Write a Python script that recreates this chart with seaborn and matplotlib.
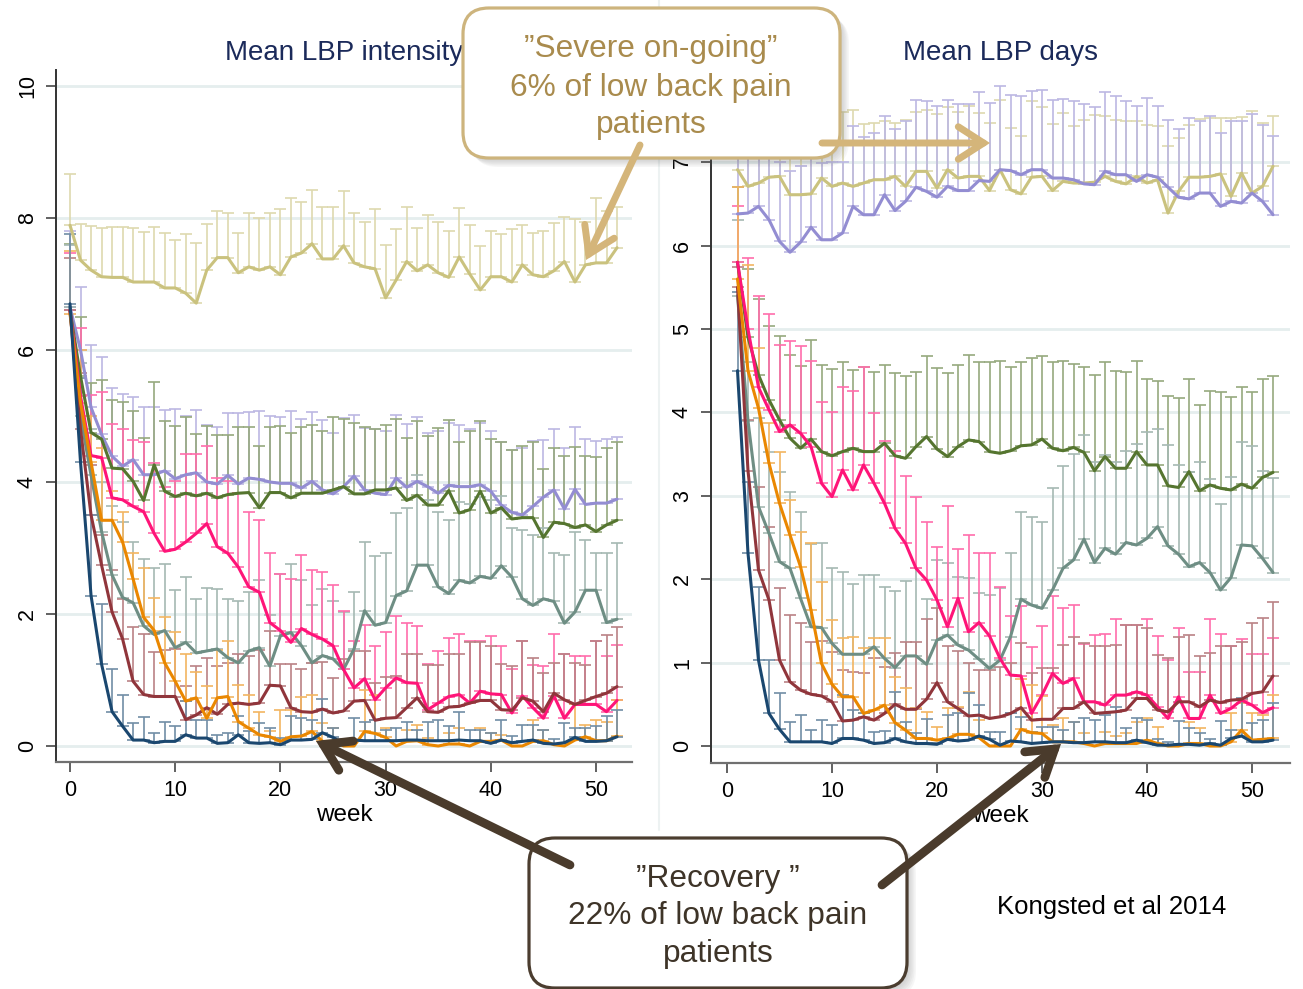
import numpy as np
import pandas as pd
import matplotlib
matplotlib.use("Agg")
import matplotlib.pyplot as plt
import seaborn as sns
from matplotlib.patches import FancyBboxPatch, FancyArrowPatch
from matplotlib.colors import to_rgb

# ---------------------------------------------------------------- data
groups = ["khaki", "lavender", "forest", "teal", "pink", "maroon", "orange", "navy"]
group_colors = ["#cac27e", "#938dd2", "#55752f", "#6e8e84", "#ff1478", "#90353b", "#ea8700", "#1a476f"]

weeks_intensity = list(range(0, 53))
weeks_days = list(range(1, 53))

# Mean LBP intensity (0-10) per week, with upper error limit
intensity_mean_khaki = [7.89, 7.36, 7.21, 7.11, 7.10, 7.10, 7.03, 7.03, 7.03, 6.94, 6.94, 6.86, 6.71, 7.21, 7.40, 7.40, 7.17, 7.26, 7.21, 7.26, 7.14, 7.41, 7.47, 7.61, 7.38, 7.38, 7.58, 7.32, 7.26, 7.23, 6.79, 7.06, 7.34, 7.20, 7.29, 7.17, 7.10, 7.41, 7.15, 6.91, 7.11, 7.11, 7.03, 7.29, 7.14, 7.11, 7.20, 7.34, 7.03, 7.29, 7.32, 7.32, 7.55]
intensity_upper_khaki = [8.67, 7.91, 7.88, 7.85, 7.87, 7.87, 7.85, 7.79, 7.87, 7.77, 7.67, 7.76, 7.62, 7.91, 8.10, 8.08, 7.77, 8.08, 8.00, 8.08, 8.14, 8.30, 8.24, 8.42, 8.16, 8.17, 8.41, 8.08, 7.94, 8.14, 7.59, 7.83, 8.17, 7.85, 8.04, 7.94, 7.81, 8.15, 7.89, 7.57, 7.80, 7.76, 7.83, 7.89, 7.78, 7.81, 7.93, 8.02, 7.99, 7.94, 8.31, 8.10, 8.16]

intensity_mean_lavender = [6.65, 6.00, 5.13, 4.72, 4.39, 4.24, 4.34, 4.11, 4.11, 4.17, 4.05, 4.11, 4.14, 4.00, 3.97, 4.10, 3.97, 4.06, 4.04, 4.00, 3.98, 3.98, 3.91, 4.01, 3.88, 3.82, 3.93, 4.09, 3.88, 3.83, 3.81, 4.06, 3.92, 4.01, 3.93, 3.83, 3.95, 3.93, 3.93, 3.96, 3.86, 3.65, 3.54, 3.50, 3.63, 3.77, 3.88, 3.59, 3.89, 3.66, 3.68, 3.68, 3.74]
intensity_upper_lavender = [7.81, 6.96, 6.07, 5.89, 5.42, 5.34, 5.29, 5.13, 5.13, 5.09, 5.10, 5.00, 5.09, 4.86, 4.83, 5.05, 5.05, 5.06, 5.08, 5.00, 4.99, 5.08, 4.95, 5.06, 4.94, 4.75, 4.97, 5.02, 4.82, 4.80, 4.77, 5.02, 4.88, 4.98, 4.75, 4.77, 4.90, 4.87, 4.80, 4.90, 4.78, 4.60, 4.49, 4.52, 4.62, 4.63, 4.81, 4.52, 4.83, 4.65, 4.62, 4.65, 4.68]

intensity_mean_forest = [6.60, 5.60, 4.75, 4.65, 4.21, 4.20, 4.01, 3.72, 4.26, 3.86, 3.78, 3.83, 3.79, 3.83, 3.76, 3.81, 3.83, 3.84, 3.61, 3.84, 3.84, 3.76, 3.83, 3.83, 3.83, 3.88, 3.93, 3.82, 3.82, 3.88, 3.88, 3.91, 3.72, 3.80, 3.65, 3.65, 3.87, 3.53, 3.58, 3.86, 3.53, 3.61, 3.44, 3.46, 3.46, 3.16, 3.39, 3.37, 3.31, 3.35, 3.25, 3.35, 3.42]
intensity_upper_forest = [7.60, 6.50, 5.50, 5.55, 5.24, 5.21, 5.08, 4.67, 5.51, 4.93, 4.85, 4.99, 4.72, 4.85, 4.71, 4.71, 4.83, 4.83, 4.54, 4.83, 4.85, 4.75, 4.83, 4.86, 4.78, 4.99, 4.95, 4.90, 4.83, 4.80, 4.86, 4.95, 4.67, 4.93, 4.70, 4.82, 4.94, 4.60, 4.77, 4.93, 4.65, 4.60, 4.49, 4.54, 4.61, 4.20, 4.52, 4.39, 4.53, 4.39, 4.38, 4.51, 4.61]

intensity_mean_teal = [6.65, 5.00, 4.10, 3.25, 2.59, 2.25, 2.17, 1.82, 1.69, 1.75, 1.49, 1.57, 1.41, 1.44, 1.47, 1.34, 1.26, 1.44, 1.49, 1.21, 1.67, 1.72, 1.52, 1.26, 1.37, 1.32, 1.16, 1.47, 2.05, 1.83, 1.87, 2.28, 2.35, 2.74, 2.74, 2.41, 2.31, 2.51, 2.47, 2.57, 2.54, 2.73, 2.56, 2.23, 2.13, 2.23, 2.19, 1.86, 2.03, 2.36, 2.36, 1.87, 1.92]
intensity_upper_teal = [7.59, 5.80, 4.80, 4.00, 3.63, 3.40, 3.09, 2.84, 2.69, 2.76, 2.36, 2.56, 2.23, 2.39, 2.38, 2.23, 2.19, 2.33, 2.51, 1.98, 2.61, 2.76, 2.51, 2.13, 2.38, 2.19, 2.03, 2.34, 3.09, 2.88, 2.93, 3.53, 3.60, 4.10, 3.72, 3.55, 3.43, 3.70, 3.66, 3.78, 3.73, 3.79, 3.30, 3.27, 3.20, 3.31, 2.92, 2.89, 3.24, 3.12, 2.92, 2.93, 3.08]

intensity_mean_pink = [6.60, 5.30, 4.40, 4.37, 3.76, 3.73, 3.63, 3.55, 3.22, 2.95, 2.98, 3.09, 3.22, 3.37, 3.02, 2.92, 2.71, 2.41, 2.33, 1.87, 1.75, 1.57, 1.78, 1.69, 1.62, 1.52, 1.16, 0.88, 1.02, 0.70, 0.88, 1.03, 0.96, 0.95, 0.55, 0.65, 0.75, 0.78, 0.65, 0.83, 0.79, 0.78, 0.50, 0.76, 0.58, 0.42, 0.76, 0.42, 0.63, 0.63, 0.63, 0.52, 0.69]
intensity_upper_pink = [7.47, 6.34, 5.32, 5.36, 4.88, 4.80, 4.63, 4.60, 4.29, 3.92, 4.01, 4.43, 4.43, 4.54, 4.06, 4.01, 3.83, 3.55, 3.43, 2.93, 2.61, 2.53, 2.89, 2.66, 2.63, 2.44, 2.04, 1.59, 1.83, 1.51, 1.72, 1.97, 1.87, 1.82, 1.24, 1.44, 1.63, 1.69, 1.59, 1.59, 1.67, 1.52, 1.16, 1.59, 1.22, 1.21, 1.69, 1.39, 1.37, 1.36, 1.59, 1.36, 1.53]

intensity_mean_maroon = [6.60, 4.80, 3.50, 2.74, 2.03, 1.62, 0.98, 0.78, 0.75, 0.75, 0.75, 0.40, 0.47, 0.58, 0.48, 0.63, 0.65, 0.63, 0.65, 0.92, 0.91, 0.58, 0.52, 0.51, 0.56, 0.50, 0.53, 0.68, 0.69, 0.39, 0.42, 0.43, 0.58, 0.73, 0.52, 0.51, 0.59, 0.60, 0.65, 0.69, 0.69, 0.55, 0.54, 0.73, 0.68, 0.52, 0.80, 0.70, 0.63, 0.69, 0.75, 0.80, 0.90]
intensity_upper_maroon = [7.39, 5.65, 4.26, 3.19, 2.66, 2.23, 1.80, 1.69, 1.42, 1.46, 1.47, 0.91, 1.21, 1.34, 1.21, 1.26, 1.39, 1.36, 1.46, 1.75, 1.24, 1.24, 1.16, 1.26, 1.27, 1.03, 1.32, 1.44, 1.44, 0.96, 1.05, 1.06, 1.39, 1.39, 1.22, 1.22, 1.40, 1.40, 1.58, 1.57, 1.52, 1.24, 1.21, 1.59, 1.34, 1.11, 1.26, 1.39, 1.26, 1.22, 1.59, 1.68, 1.80]

intensity_mean_orange = [6.55, 5.20, 4.30, 3.42, 3.42, 3.09, 2.53, 1.95, 1.75, 1.26, 0.98, 0.68, 0.73, 0.42, 0.73, 0.75, 0.37, 0.27, 0.17, 0.14, 0.07, 0.14, 0.15, 0.22, 0.07, 0.07, 0.00, 0.00, 0.22, 0.19, 0.13, 0.00, 0.07, 0.08, 0.02, 0.00, 0.03, 0.03, 0.00, 0.07, 0.07, 0.09, 0.00, 0.00, 0.07, 0.08, 0.02, 0.00, 0.09, 0.14, 0.08, 0.08, 0.15]
intensity_upper_orange = [7.50, 6.00, 5.00, 4.52, 3.87, 3.55, 2.92, 2.70, 2.25, 1.95, 1.73, 1.39, 1.12, 0.91, 1.46, 1.59, 0.92, 0.78, 0.52, 0.22, 0.55, 0.55, 0.75, 0.78, 0.35, 0.27, 0.00, 0.00, 0.85, 0.78, 0.28, 0.00, 0.24, 0.32, 0.12, 0.00, 0.20, 0.27, 0.00, 0.27, 0.19, 0.17, 0.00, 0.00, 0.40, 0.25, 0.02, 0.00, 0.63, 0.32, 0.40, 0.37, 0.70]

intensity_mean_navy = [6.70, 4.30, 2.28, 1.24, 0.52, 0.30, 0.09, 0.09, 0.05, 0.07, 0.07, 0.17, 0.12, 0.12, 0.04, 0.05, 0.17, 0.05, 0.04, 0.05, 0.02, 0.09, 0.09, 0.10, 0.20, 0.13, 0.04, 0.09, 0.08, 0.08, 0.08, 0.08, 0.09, 0.09, 0.08, 0.08, 0.08, 0.09, 0.08, 0.08, 0.04, 0.09, 0.05, 0.07, 0.09, 0.04, 0.03, 0.05, 0.13, 0.07, 0.07, 0.08, 0.14]
intensity_upper_navy = [7.76, 5.57, 3.50, 2.15, 1.16, 0.78, 0.35, 0.44, 0.20, 0.36, 0.31, 0.68, 0.40, 0.40, 0.17, 0.20, 0.45, 0.22, 0.35, 0.27, 0.12, 0.45, 0.42, 0.39, 0.71, 0.27, 0.10, 0.42, 0.37, 0.39, 0.24, 0.28, 0.37, 0.24, 0.37, 0.39, 0.30, 0.52, 0.24, 0.24, 0.19, 0.40, 0.15, 0.32, 0.32, 0.25, 0.10, 0.35, 0.27, 0.27, 0.30, 0.45, 0.55]

# Mean LBP days per week (weeks 1-52), with upper error limit
days_mean_khaki = [6.91, 6.71, 6.75, 6.82, 6.83, 6.61, 6.61, 6.62, 6.81, 6.71, 6.75, 6.71, 6.75, 6.79, 6.79, 6.83, 6.71, 6.89, 6.89, 6.69, 6.91, 6.81, 6.83, 6.83, 6.66, 6.91, 6.67, 6.62, 6.82, 6.83, 6.66, 6.77, 6.75, 6.75, 6.76, 6.83, 6.77, 6.74, 6.83, 6.75, 6.79, 6.39, 6.65, 6.82, 6.82, 6.83, 6.86, 6.59, 6.87, 6.63, 6.71, 6.95]
days_upper_khaki = [7.70, 7.65, 7.60, 7.62, 7.58, 7.60, 7.55, 7.60, 7.62, 7.58, 7.60, 7.63, 7.46, 7.47, 7.49, 7.47, 7.51, 7.60, 7.62, 7.58, 7.66, 7.60, 7.67, 7.59, 7.47, 7.75, 7.41, 7.31, 7.73, 7.66, 7.46, 7.59, 7.43, 7.51, 7.57, 7.55, 7.51, 7.49, 7.50, 7.45, 7.43, 7.19, 7.29, 7.45, 7.52, 7.53, 7.53, 7.53, 7.54, 7.61, 7.47, 7.55]

days_mean_lavender = [6.38, 6.39, 6.47, 6.31, 6.05, 5.92, 6.04, 6.22, 6.07, 6.07, 6.15, 6.47, 6.37, 6.37, 6.61, 6.42, 6.53, 6.70, 6.65, 6.58, 6.71, 6.66, 6.66, 6.78, 6.77, 6.91, 6.90, 6.85, 6.91, 6.91, 6.81, 6.81, 6.79, 6.74, 6.73, 6.89, 6.85, 6.85, 6.77, 6.85, 6.82, 6.70, 6.58, 6.56, 6.63, 6.63, 6.47, 6.53, 6.51, 6.63, 6.53, 6.37]
days_upper_lavender = [7.30, 7.20, 7.25, 7.10, 7.00, 6.89, 6.95, 7.10, 6.99, 7.00, 7.00, 7.43, 7.30, 7.35, 7.55, 7.40, 7.50, 7.74, 7.73, 7.67, 7.75, 7.70, 7.70, 7.84, 7.71, 7.91, 7.81, 7.79, 7.85, 7.87, 7.75, 7.76, 7.73, 7.70, 7.66, 7.84, 7.79, 7.73, 7.67, 7.77, 7.67, 7.51, 7.40, 7.53, 7.50, 7.55, 7.35, 7.49, 7.50, 7.58, 7.45, 7.31]

days_mean_forest = [5.80, 4.90, 4.45, 4.15, 3.91, 3.69, 3.57, 3.68, 3.53, 3.48, 3.53, 3.57, 3.53, 3.53, 3.63, 3.48, 3.45, 3.59, 3.71, 3.56, 3.47, 3.59, 3.67, 3.65, 3.53, 3.51, 3.54, 3.60, 3.61, 3.68, 3.57, 3.54, 3.58, 3.52, 3.30, 3.47, 3.33, 3.33, 3.53, 3.37, 3.37, 3.12, 3.10, 3.29, 3.06, 3.13, 3.09, 3.07, 3.14, 3.09, 3.22, 3.28]
days_upper_forest = [6.70, 5.72, 5.36, 5.03, 4.92, 4.69, 4.56, 4.87, 4.57, 4.52, 4.61, 4.51, 4.55, 4.48, 4.57, 4.47, 4.44, 4.49, 4.68, 4.53, 4.47, 4.57, 4.69, 4.60, 4.60, 4.62, 4.55, 4.60, 4.65, 4.68, 4.60, 4.62, 4.58, 4.55, 4.45, 4.60, 4.50, 4.48, 4.62, 4.40, 4.38, 4.20, 4.17, 4.40, 4.09, 4.26, 4.25, 4.18, 4.30, 4.25, 4.40, 4.44]

days_mean_teal = [5.40, 3.90, 2.87, 2.55, 2.21, 2.13, 1.77, 1.43, 1.42, 1.23, 1.10, 1.10, 1.10, 1.19, 1.05, 0.94, 1.08, 1.08, 0.98, 1.27, 1.33, 1.21, 1.15, 1.04, 0.93, 1.03, 1.31, 1.76, 1.69, 1.65, 1.87, 2.13, 2.23, 2.48, 2.20, 2.37, 2.30, 2.44, 2.41, 2.49, 2.63, 2.40, 2.30, 2.15, 2.20, 2.08, 1.87, 2.02, 2.41, 2.40, 2.25, 2.08]
days_upper_teal = [6.31, 4.60, 3.93, 3.52, 3.29, 3.05, 2.80, 2.42, 2.43, 2.14, 2.09, 1.94, 2.05, 2.05, 1.91, 1.86, 1.98, 2.13, 1.76, 2.23, 2.19, 2.03, 2.02, 1.83, 1.81, 1.90, 2.32, 2.81, 2.75, 2.68, 3.09, 3.36, 3.50, 3.73, 3.40, 3.49, 3.40, 3.54, 3.62, 3.77, 3.80, 3.61, 3.37, 3.29, 3.40, 3.20, 2.90, 3.23, 3.64, 3.60, 3.30, 3.21]

days_mean_pink = [5.80, 5.00, 4.30, 4.03, 3.77, 3.85, 3.75, 3.59, 3.15, 2.99, 3.31, 3.07, 3.37, 3.15, 2.91, 2.61, 2.43, 2.13, 1.99, 1.75, 1.43, 1.77, 1.37, 1.48, 1.32, 1.05, 0.85, 0.84, 0.39, 0.61, 0.87, 0.75, 0.81, 0.53, 0.53, 0.49, 0.61, 0.61, 0.65, 0.61, 0.47, 0.33, 0.59, 0.33, 0.33, 0.61, 0.39, 0.45, 0.55, 0.49, 0.40, 0.46]
days_upper_pink = [6.47, 5.85, 5.40, 5.18, 4.81, 4.86, 4.80, 4.62, 4.13, 4.01, 4.30, 4.26, 4.55, 3.99, 3.66, 3.54, 3.24, 2.99, 2.69, 2.39, 2.88, 2.36, 2.53, 2.31, 2.31, 1.91, 1.56, 1.68, 1.19, 1.44, 1.80, 1.65, 1.69, 1.22, 1.33, 1.34, 1.52, 1.45, 1.45, 1.52, 1.32, 1.03, 1.41, 0.89, 0.89, 1.52, 1.34, 1.20, 1.28, 1.10, 1.10, 1.30]

days_mean_maroon = [5.50, 3.30, 2.11, 1.75, 1.03, 0.77, 0.67, 0.62, 0.60, 0.53, 0.30, 0.31, 0.35, 0.31, 0.39, 0.50, 0.44, 0.44, 0.56, 0.76, 0.53, 0.45, 0.36, 0.37, 0.33, 0.35, 0.39, 0.46, 0.31, 0.32, 0.32, 0.45, 0.45, 0.53, 0.39, 0.40, 0.41, 0.43, 0.57, 0.57, 0.43, 0.41, 0.53, 0.53, 0.47, 0.55, 0.52, 0.55, 0.56, 0.63, 0.65, 0.84]
days_upper_maroon = [5.74, 3.91, 3.10, 2.63, 1.90, 1.57, 1.47, 1.25, 1.26, 1.13, 0.91, 0.89, 0.87, 1.05, 0.95, 1.12, 1.25, 1.25, 1.52, 1.65, 1.20, 1.14, 1.00, 0.91, 0.91, 0.95, 1.00, 1.23, 0.87, 0.94, 0.94, 1.21, 1.31, 1.23, 1.20, 1.20, 1.21, 1.45, 1.45, 1.41, 1.09, 1.06, 1.31, 1.33, 1.08, 1.12, 1.20, 1.20, 1.25, 1.48, 1.54, 1.73]

days_mean_orange = [5.60, 4.50, 4.05, 3.39, 2.91, 2.53, 2.15, 1.63, 0.99, 0.74, 0.59, 0.59, 0.39, 0.43, 0.49, 0.28, 0.19, 0.09, 0.09, 0.07, 0.09, 0.14, 0.14, 0.10, 0.00, 0.00, 0.00, 0.20, 0.16, 0.15, 0.05, 0.05, 0.05, 0.03, 0.00, 0.03, 0.03, 0.03, 0.03, 0.07, 0.03, 0.00, 0.00, 0.03, 0.03, 0.00, 0.00, 0.05, 0.19, 0.07, 0.08, 0.09]
days_upper_orange = [6.70, 5.77, 4.77, 3.87, 3.53, 2.95, 2.57, 2.43, 1.97, 1.51, 1.29, 1.31, 1.17, 1.30, 1.30, 0.83, 0.69, 0.45, 0.41, 0.23, 0.45, 0.47, 0.65, 0.31, 0.00, 0.00, 0.00, 0.80, 0.73, 0.60, 0.25, 0.34, 0.29, 0.15, 0.00, 0.17, 0.12, 0.15, 0.29, 0.33, 0.23, 0.00, 0.00, 0.29, 0.22, 0.00, 0.00, 0.39, 0.51, 0.39, 0.37, 0.61]

days_mean_navy = [4.50, 2.31, 1.03, 0.39, 0.20, 0.05, 0.05, 0.05, 0.05, 0.03, 0.09, 0.09, 0.07, 0.03, 0.04, 0.09, 0.05, 0.03, 0.03, 0.02, 0.08, 0.06, 0.07, 0.12, 0.08, 0.01, 0.06, 0.05, 0.03, 0.04, 0.05, 0.05, 0.04, 0.04, 0.05, 0.05, 0.04, 0.04, 0.07, 0.04, 0.01, 0.01, 0.02, 0.02, 0.01, 0.03, 0.01, 0.09, 0.12, 0.05, 0.05, 0.07]
days_upper_navy = [5.44, 3.17, 1.91, 1.03, 0.63, 0.29, 0.37, 0.19, 0.31, 0.25, 0.61, 0.43, 0.39, 0.17, 0.18, 0.65, 0.29, 0.16, 0.32, 0.03, 0.37, 0.39, 0.63, 0.49, 0.17, 0.17, 0.40, 0.35, 0.17, 0.23, 0.23, 0.19, 0.29, 0.33, 0.31, 0.37, 0.47, 0.21, 0.34, 0.31, 0.08, 0.05, 0.30, 0.21, 0.15, 0.08, 0.30, 0.19, 0.57, 0.27, 0.31, 0.51]

intensity_yticks = [0, 2, 4, 6, 8, 10]
days_yticks = [0, 1, 2, 3, 4, 5, 6, 7]
week_ticks = [0, 10, 20, 30, 40, 50]

titles = ["Mean LBP intensity", "Mean LBP days"]
box_top_lines = ["\u201dSevere on-going\u201d", "6% of low back pain", "patients"]
box_bottom_lines = ["\u201dRecovery \u201d", "22% of low back pain", "patients"]
citation = "Kongsted et al 2014"

# ---------------------------------------------------------------- tables
intensity_means = [intensity_mean_khaki, intensity_mean_lavender, intensity_mean_forest, intensity_mean_teal,
                   intensity_mean_pink, intensity_mean_maroon, intensity_mean_orange, intensity_mean_navy]
intensity_uppers = [intensity_upper_khaki, intensity_upper_lavender, intensity_upper_forest, intensity_upper_teal,
                    intensity_upper_pink, intensity_upper_maroon, intensity_upper_orange, intensity_upper_navy]
days_means = [days_mean_khaki, days_mean_lavender, days_mean_forest, days_mean_teal,
              days_mean_pink, days_mean_maroon, days_mean_orange, days_mean_navy]
days_uppers = [days_upper_khaki, days_upper_lavender, days_upper_forest, days_upper_teal,
               days_upper_pink, days_upper_maroon, days_upper_orange, days_upper_navy]


def long_table(weeks, means, uppers):
    frames = []
    for g, m, u in zip(groups, means, uppers):
        frames.append(pd.DataFrame({"week": weeks, "group": g, "mean": m, "upper": u}))
    return pd.concat(frames, ignore_index=True)


df_int = long_table(weeks_intensity, intensity_means, intensity_uppers)
df_days = long_table(weeks_days, days_means, days_uppers)

palette = dict(zip(groups, group_colors))


def tint(color, f):
    c = np.array(to_rgb(color))
    return tuple(c + (1 - c) * f)


# ---------------------------------------------------------------- style
sns.set_theme(style="white")
plt.rcParams["font.family"] = ["Liberation Sans", "DejaVu Sans"]

W, H = 1303, 989
fig = plt.figure(figsize=(W / 100, H / 100), dpi=100)
fig.patch.set_facecolor("white")

# plot areas in pixel terms: left panel x 56-632, right panel x 711-1290, y 70-762
axL = fig.add_axes([56 / W, 1 - 762 / H, 576 / W, 692 / H])
axR = fig.add_axes([711 / W, 1 - 762.7 / H, 579 / W, 692.7 / H])


def draw_panel(ax, df, xlim, ylim, yticks, title):
    ax.set_facecolor("white")
    # upper error bars, drawn under the trajectories
    for g in groups:
        sub = df[df["group"] == g]
        sub = sub[sub["upper"] > sub["mean"] + 1e-9]
        err = np.vstack([np.zeros(len(sub)), (sub["upper"] - sub["mean"]).to_numpy()])
        ax.errorbar(sub["week"], sub["mean"], yerr=err, fmt="none",
                    ecolor=tint(palette[g], 0.38), elinewidth=1.2,
                    capsize=4.6, capthick=1.2, zorder=2)
    sns.lineplot(data=df, x="week", y="mean", hue="group", hue_order=groups,
                 palette=palette, estimator=None, legend=False, ax=ax,
                 linewidth=2.2, zorder=3)
    ax.set_xlim(*xlim)
    ax.set_ylim(*ylim)
    ax.set_xticks(week_ticks)
    ax.set_yticks(yticks)
    ax.set_xticklabels([str(t) for t in week_ticks])
    ax.set_yticklabels([str(t) for t in yticks])
    ax.yaxis.grid(True, color="#e5eeee", linewidth=2.0)
    ax.xaxis.grid(False)
    ax.set_axisbelow(True)
    for s in ["top", "right"]:
        ax.spines[s].set_visible(False)
    ax.spines["left"].set_color("#333333")
    ax.spines["bottom"].set_color("#707070")
    ax.spines["left"].set_linewidth(1.4)
    ax.spines["bottom"].set_linewidth(1.6)
    ax.tick_params(axis="both", which="major", direction="out", length=7, width=1.3,
                   color="#555555", labelsize=15.5, labelcolor="black", pad=6,
                   left=True, bottom=True)
    for lab in ax.get_yticklabels():
        lab.set_rotation(90)
        lab.set_va("center")
    ax.set_ylabel("")
    ax.set_xlabel("week", fontsize=17.5, color="black")
    ax.xaxis.set_label_coords(0.5, -53 / 692)
    ax.xaxis.label.set_va("center")
    ax.text(0.5, (762 - 53) / 692, title, transform=ax.transAxes,
            ha="center", va="center", fontsize=20, color="#1b2a5a")


draw_panel(axL, df_int, (-14 / 10.52, 562 / 10.52), (-16 / 66, 676 / 66), intensity_yticks, titles[0])
draw_panel(axR, df_days, (-16 / 10.5, 563 / 10.5), (-16.7 / 83.4, 676 / 83.4), days_yticks, titles[1])

# ---------------------------------------------------------------- callouts (figure pixel space)
ov = fig.add_axes([0, 0, 1, 1], zorder=10)
ov.set_xlim(0, W)
ov.set_ylim(H, 0)
ov.axis("off")
ov.patch.set_alpha(0)

# faint divider between the two panels
ov.plot([659, 659], [0, 830], color="#edf2f2", lw=1.5, zorder=0)


def callout(x0, y0, w, h, edge, text_color, lines, cx, ys):
    for i in range(6):
        d = 2 + i * 1.4
        ov.add_patch(FancyBboxPatch((x0 + d, y0 + d), w, h,
                                    boxstyle="round,pad=0,rounding_size=26",
                                    facecolor="#606060", edgecolor="none", alpha=0.05, zorder=1))
    ov.add_patch(FancyBboxPatch((x0, y0), w, h, boxstyle="round,pad=0,rounding_size=26",
                                facecolor="white", edgecolor=edge, linewidth=2.3, zorder=2))
    for line, y in zip(lines, ys):
        ov.text(cx, y, line, ha="center", va="center", fontsize=22.8, color=text_color, zorder=3)


def arrow(p0, p1, color, lw):
    ov.add_patch(FancyArrowPatch(p0, p1, arrowstyle="->,head_length=0.7,head_width=0.45",
                                 mutation_scale=26, color=color, linewidth=lw,
                                 capstyle="round", joinstyle="miter", shrinkA=0, shrinkB=0,
                                 zorder=4))


callout(463, 8, 377, 150, "#cdb47d", "#a98b4d", box_top_lines, 651, [49, 88, 125])
callout(529, 838, 378, 150, "#4b3d2f", "#3e3428", box_bottom_lines, 718, [879, 916, 954])

tan_arrow = "#d4b57a"
brown_arrow = "#4a3b2c"
arrow((640, 145), (586, 260), tan_arrow, 5.0)
arrow((822, 143), (990, 143), tan_arrow, 5.0)
arrow((570, 865), (316, 741), brown_arrow, 6.3)
arrow((882, 885), (1061, 744), brown_arrow, 6.3)

ov.text(1112, 907, citation, ha="center", va="center", fontsize=18.5, color="black")

fig.savefig("out.png", dpi=100, facecolor="white")
